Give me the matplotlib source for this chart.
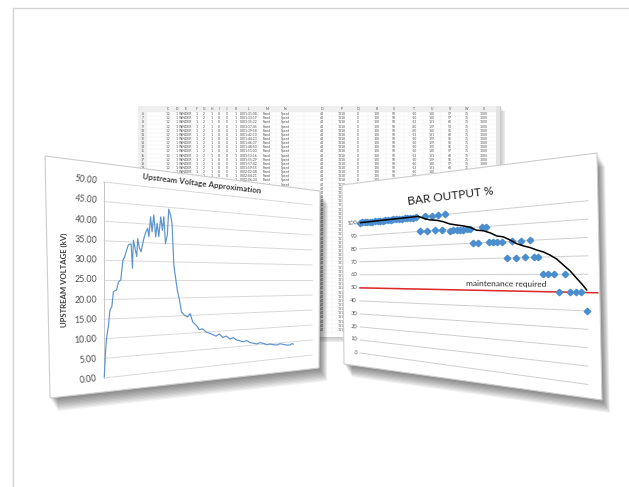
import numpy as np
import matplotlib
matplotlib.use("Agg")
import matplotlib.pyplot as plt
from matplotlib.patches import Polygon, Rectangle
from matplotlib.path import Path
from matplotlib.transforms import Affine2D, Transform

plt.rcParams['font.family'] = ['Lato', 'DejaVu Sans']

# ---- left chart: upstream voltage (kV) against sample position (0-100 % of axis)
volt_x = [
    0.1, 0.6, 1.0, 1.6, 2.2, 2.9, 3.5, 4.7, 5.4, 6.3,
    7.1, 7.7, 8.6, 9.2, 10.3, 10.8, 11.2, 12.5, 12.9, 13.5,
    14.2, 15.5, 16.2, 16.9, 17.4, 18.1, 18.7, 19.4, 20.2, 20.8,
    21.5, 22.3, 23.0, 23.6, 24.3, 25.1, 25.7, 26.5, 27.1, 27.9,
    28.2, 29.4, 30.4, 31.2, 32.6, 34.0, 35.1, 36.3, 37.9, 39.3,
    40.8, 42.5, 44.8, 47.2, 48.8, 50.4, 52.2, 54.1, 55.7, 57.4,
    59.1, 60.8, 62.5, 64.3, 66.1, 67.9, 69.7, 71.5, 73.3, 75.1,
    77.0, 78.9, 80.8, 82.7, 84.6, 86.6, 87.6, 88.6]
volt_y = [
    0.3, 7.1, 10.5, 13.0, 17.3, 18.1, 22.0, 22.4, 24.5, 25.0,
    30.2, 30.9, 32.9, 34.2, 34.5, 28.1, 35.5, 31.2, 36.0, 33.7,
    32.5, 36.5, 37.9, 38.9, 36.6, 42.0, 38.0, 42.6, 36.7, 40.4,
    36.8, 42.2, 38.6, 42.3, 35.0, 37.4, 44.5, 42.9, 40.6, 29.1,
    27.7, 22.2, 19.3, 16.1, 15.1, 14.6, 15.5, 13.1, 12.1, 10.8,
    11.0, 10.0, 9.4, 8.6, 9.2, 8.1, 8.4, 7.4, 7.8, 7.0,
    6.7, 6.3, 6.6, 5.9, 5.6, 5.3, 5.6, 5.3, 4.8, 4.9,
    4.6, 4.4, 4.7, 4.4, 4.1, 4.0, 4.4, 4.2]
volt_ticks = [0, 5, 10, 15, 20, 25, 30, 35, 40, 45, 50]

# ---- right chart: bar output %
bar_x = [
    0, 1.5, 3, 4.5, 6, 7.5, 9, 10.5, 12, 13.5,
    15, 16.5, 18, 19.5, 21, 22.5, 24, 25.5, 27, 28.5,
    30, 31.5, 33.5, 36.0, 37.1, 39.2, 40.9, 42.4, 44.3, 45.6,
    47.9, 49.4, 50.9, 52.5, 53.9, 55.4, 56.7, 58.2, 60.0, 61.8,
    63.4, 64.9, 66.5, 68.1, 69.8, 72.0, 73.7, 75.3, 77.2, 78.7,
    80.6, 82.0, 83.5, 85.3, 87.0, 89.0, 90.7, 92.6, 94.3, 96.2,
    97.7, 99.6]
bar_y = [
    100, 100, 100, 100, 100, 100, 100, 100, 100, 100,
    100, 100, 100, 100, 100, 100, 100, 100, 100, 100,
    100, 100, 90, 100, 90, 100, 90, 100, 90, 100,
    89, 89, 89, 89, 89, 89, 89, 80, 80, 90,
    90, 80, 80, 80, 80, 70, 80, 70, 80, 70,
    80, 70, 70, 60, 60, 60, 50, 60, 50, 50,
    50, 40]
trend_x = [0.4, 32.7, 35.6, 38.5, 41.8, 44.8, 47.9, 50.9, 53.8, 56.8, 59.6, 62.4,
           65.2, 67.9, 70.5, 73.1, 75.6, 78.1, 80.5, 82.9, 85.3, 87.6, 89.9, 92.1,
           94.3, 96.4, 98.1, 99.6]
trend_y = [100, 100.5, 98.6, 97.3, 96.6, 95.3, 93.4, 92.4, 91.5, 90.3, 88.1, 87.5,
           85.9, 83.7, 82.9, 80.8, 78.4, 76.9, 75.8, 74.2, 72.9, 71.0, 68.6, 65.2,
           61.9, 57.8, 54.6, 51.4]
bar_ticks = [0, 10, 20, 30, 40, 50, 60, 70, 80, 90, 100]
maintenance_level = 50

# ---- spreadsheet in the back
sheet_letters = ['C', 'D', 'E', 'F', 'G', 'H', 'I', 'J', 'K', 'L', 'M',
                 'N', 'O', 'P', 'Q', 'R', 'S', 'T', 'U', 'V', 'W', 'X']
sheet_const = {'C': '1.2', 'D': '1', 'E': 'WINDER', 'F': '1', 'G': '2', 'H': '1',
               'I': '8', 'J': '0', 'K': '1', 'M': 'Fixed', 'N': 'Speed', 'O': '44',
               'P': '1118', 'Q': '0', 'R': '100', 'S': '50', 'W': '75', 'X': '1000'}
sheet_time = ['0001:31:08', '0001:33:19', '0001:35:32', '0001:37:45', '0001:39:58',
              '0001:42:10', '0001:44:23', '0001:46:37', '0001:48:50', '0001:51:03',
              '0001:53:16', '0001:55:29', '0001:57:42', '0001:59:55', '0002:02:08',
              '0002:04:21', '0002:06:34', '0002:08:47']
sheet_T = ['-10', '-10', '-13', '-20', '-20', '-13', '-10', '-10', '-10', '-10',
           '-13', '-10', '-10', '-13', '-10', '-20', '-13', '-10']
sheet_U = ['130', '130', '131', '129', '130', '131', '129', '129', '129', '130',
           '131', '129', '130', '131', '130', '129', '131', '130']
sheet_V = ['57', '57', '60', '53', '55', '60', '55', '55', '55', '57',
           '60', '55', '57', '60', '57', '53', '60', '57']
sheet_first_row = 6
sheet_n_rows = 53


def homography(src, dst):
    rows = []
    for (x, y), (X, Y) in zip(src, dst):
        rows.append([x, y, 1, 0, 0, 0, -X * x, -X * y, -X])
        rows.append([0, 0, 0, x, y, 1, -Y * x, -Y * y, -Y])
    _, _, vt = np.linalg.svd(np.array(rows, dtype=float))
    H = vt[-1].reshape(3, 3)
    return H / H[2, 2]


class Perspective(Transform):
    input_dims = 2
    output_dims = 2
    is_separable = False
    has_inverse = True

    def __init__(self, H):
        super().__init__()
        self.H = H

    def transform_non_affine(self, values):
        v = np.asarray(values, dtype=float).reshape(-1, 2)
        p = np.column_stack([v, np.ones(len(v))]) @ self.H.T
        return p[:, :2] / p[:, 2:3]

    def inverted(self):
        return Perspective(np.linalg.inv(self.H))


fig = plt.figure(figsize=(6.29, 4.87), dpi=100)
ax = fig.add_axes([0, 0, 1, 1])
ax.set_xlim(0, 629)
ax.set_ylim(487, 0)
ax.set_autoscale_on(False)
ax.axis('off')

# page frame
ax.plot([13, 629], [8, 8], color='#d4d4d4', lw=1.0, zorder=0)
ax.plot([13, 13], [8, 487], color='#d4d4d4', lw=1.0, zorder=0)

unit = [(0, 0), (1, 0), (1, 1), (0, 1)]
left_plot = [(104, 378), (312, 355), (312, 205), (104, 182)]
right_plot = [(360, 353), (588, 384.5), (588, 200.7), (360, 222.7)]
left_map = Affine2D().scale(1 / 100, 1 / 50) + Perspective(homography(unit, left_plot))
right_map = Affine2D().scale(1 / 100, 1 / 100) + Perspective(homography(unit, right_plot))
T_left = left_map + ax.transData
T_right = right_map + ax.transData

left_panel = [(45, 156), (320, 191), (319, 368), (50, 398)]
right_panel = [(342, 185), (597, 153), (602, 400), (344, 364)]


def shadow(poly, z, steps=10, dx=0.8, dy=1.3, alpha=0.065):
    for i in range(1, steps + 1):
        ax.add_patch(Polygon(np.array(poly, float) + [i * dx, i * dy], closed=True,
                             fc='#202020', ec='none', alpha=alpha, zorder=z))


def place(mapping, x, y, s, dx=1.0, dy=0.0, **kw):
    p0, p1 = mapping.transform([(x, y), (x + dx, y + dy)])
    ang = np.degrees(np.arctan2(-(p1[1] - p0[1]), p1[0] - p0[0]))
    ax.text(p0[0], p0[1], s, rotation=ang, rotation_mode='anchor', **kw)


# ---- spreadsheet
sl, sr, st, sb = 138, 500, 106, 337
head_h, row_h, num_w = 6.0, 4.15, 9.0
col_x = [168, 177, 186, 197, 204, 212, 219, 227, 236, 249, 267, 285,
         322, 342, 358, 377, 394, 414, 432, 450, 467, 484]
sheet_poly = [(sl, st), (sr, st), (sr, sb), (sl, sb)]
shadow(sheet_poly, 0.5, steps=6, dx=0.9, dy=0.9, alpha=0.045)
ax.add_patch(Rectangle((sl, st), sr - sl, sb - st, fc='white', ec='#c4c4c4', lw=0.6, zorder=1))
ax.add_patch(Rectangle((sl, st), sr - sl, head_h, fc='#efefef', ec='none', zorder=1.1))
ax.add_patch(Rectangle((sl, st), num_w, sb - st, fc='#efefef', ec='none', zorder=1.1))
ax.add_patch(Rectangle((sr - 4, st), 4, sb - st, fc='#e3e3e3', ec='none', zorder=1.1))
for i in range(sheet_n_rows + 1):
    yy = st + head_h + i * row_h
    ax.plot([sl, sr - 4], [yy, yy], color='#ededed', lw=0.3, zorder=1.2)
for a, b in zip(col_x[:-1], col_x[1:]):
    ax.plot([(a + b) / 2] * 2, [st, sb], color='#f0f0f0', lw=0.3, zorder=1.2)

hide = [Path(left_panel), Path(right_panel)]


def hidden(x, y):
    return any(p.contains_point((x - 3, y)) and p.contains_point((x + 3, y)) for p in hide)


small = dict(fontsize=2.4, color='#505050', ha='center', va='center', zorder=1.3)
for letter, x in zip(sheet_letters, col_x):
    ax.text(x, st + head_h / 2, letter, **small)
for i in range(sheet_n_rows):
    yy = st + head_h + (i + 0.5) * row_h
    if not hidden(sl + num_w / 2, yy):
        ax.text(sl + num_w / 2, yy, str(sheet_first_row + i), **small)
    for letter, x in zip(sheet_letters, col_x):
        if letter in sheet_const:
            s = sheet_const[letter]
        else:
            source = {'L': sheet_time, 'T': sheet_T, 'U': sheet_U, 'V': sheet_V}[letter]
            if i >= len(source):
                continue
            s = source[i]
        if not hidden(x, yy):
            ax.text(x, yy, s, **small)

# ---- left panel
shadow(left_panel, 4.5)
ax.add_patch(Polygon(left_panel, closed=True, fc='white', ec='#cdcdcd', lw=0.8, zorder=5))
for v in volt_ticks:
    ax.plot([0, 100], [v, v], transform=T_left, color='#d9d9d9', lw=0.7, zorder=6)
    place(left_map, -2.5, v, f'{v:.2f}', fontsize=6.4, color='#4d4d4d',
          ha='right', va='center', zorder=7)
ax.plot([0, 0], [0, 50], transform=T_left, color='#c6c6c6', lw=0.7, zorder=6)
ax.plot(volt_x, volt_y, transform=T_left, color='#5b93cf', lw=0.85, zorder=7)
place(left_map, -14, 25, 'UPSTREAM VOLTAGE (kV)', dx=0.0, dy=1.0, fontsize=5.6,
      fontweight='bold', color='#3c3c3c', ha='center', va='center', zorder=7)
place(left_map, 40.5, 52.5, 'Upstream Voltage Approximation', fontsize=5.8,
      fontweight='bold', color='#3c3c3c', ha='center', va='center', zorder=7)

# ---- right panel
shadow(right_panel, 9.5)
ax.add_patch(Polygon(right_panel, closed=True, fc='white', ec='#cdcdcd', lw=0.8, zorder=10))
for v in bar_ticks:
    ax.plot([0, 100], [v, v], transform=T_right, color='#cfcfcf', lw=0.7, zorder=11)
    place(right_map, -1.8, v, str(v), fontsize=4.2, color='#555555',
          ha='right', va='center', zorder=12)
ax.plot([0, 103], [maintenance_level] * 2, transform=T_right, color='#e02a2a', lw=1.1, zorder=12)
ax.plot(bar_x, bar_y, transform=T_right, ls='none', marker='D', ms=3.3,
        mfc='#4a8ed0', mec='#4a8ed0', zorder=13)
ax.plot(trend_x, trend_y, transform=T_right, color='black', lw=1.1, zorder=14)
place(right_map, 71.5, 54.5, 'maintenance required', fontsize=6.0, color='#2a2a2a',
      ha='center', va='center', zorder=14)
place(right_map, 48, 112, 'BAR OUTPUT %', fontsize=8.6, color='#1e1e1e',
      ha='center', va='center', zorder=14)

fig.savefig('out.png', dpi=100)
